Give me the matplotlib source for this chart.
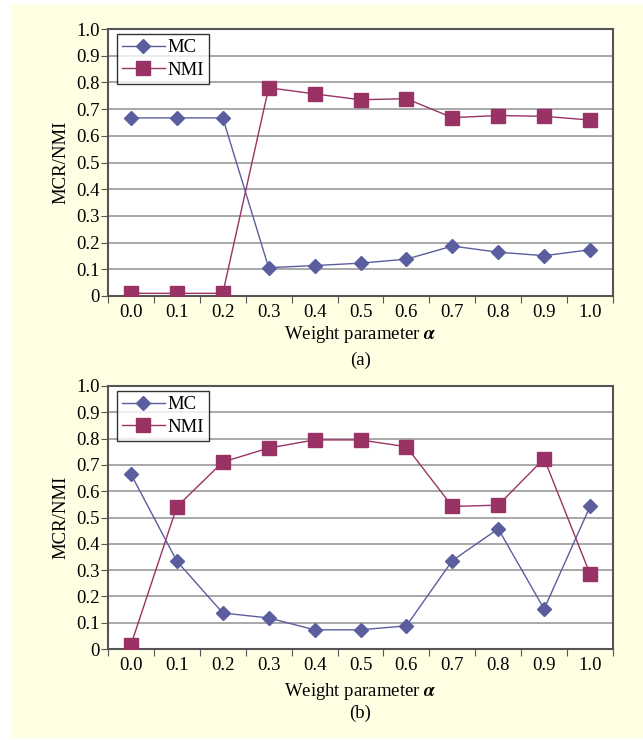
import matplotlib.pyplot as plt
import numpy as np
from matplotlib.patches import Rectangle

plt.rcParams['font.family'] = ['Liberation Serif', 'DejaVu Serif']
plt.rcParams['mathtext.fontset'] = 'stix'

alpha_labels = ['0.0', '0.1', '0.2', '0.3', '0.4', '0.5', '0.6', '0.7', '0.8', '0.9', '1.0']

# panel (a)
mc_a = [0.667, 0.667, 0.667, 0.106, 0.114, 0.123, 0.138, 0.187, 0.164, 0.151, 0.173]
nmi_a = [0.010, 0.010, 0.010, 0.780, 0.757, 0.735, 0.739, 0.668, 0.676, 0.673, 0.659]

# panel (b)
mc_b = [0.665, 0.334, 0.137, 0.118, 0.073, 0.073, 0.088, 0.336, 0.457, 0.152, 0.542]
nmi_b = [0.016, 0.541, 0.711, 0.764, 0.795, 0.795, 0.769, 0.542, 0.547, 0.724, 0.285]

MC_COLOR = '#5b5e9e'
NMI_COLOR = '#993366'
BG = '#ffffe4'
FS = 13.5

fig = plt.figure(figsize=(6.43, 7.40), dpi=100)
fig.patch.set_facecolor('white')
fig.patches.append(Rectangle((11 / 643, 2 / 740), 632 / 643, 734 / 740,
                             transform=fig.transFigure, facecolor=BG,
                             edgecolor='none', zorder=-10))


def draw_panel(rect, mc, nmi, tag, xlab_y, tag_y):
    ax = fig.add_axes(rect)
    x = np.arange(len(alpha_labels))
    ax.plot(x, mc, color=MC_COLOR, lw=1.0, marker='D', ms=7.5,
            mfc=MC_COLOR, mec=MC_COLOR, label='MC', zorder=3)
    ax.plot(x, nmi, color=NMI_COLOR, lw=1.0, marker='s', ms=9.5,
            mfc=NMI_COLOR, mec=NMI_COLOR, label='NMI', zorder=3)
    ax.set_xlim(-0.5, 10.5)
    ax.set_ylim(0, 1.0)
    ax.set_yticks(np.arange(0, 1.01, 0.1))
    ax.set_yticklabels(['0', '0.1', '0.2', '0.3', '0.4', '0.5', '0.6',
                        '0.7', '0.8', '0.9', '1.0'])
    ax.set_xticks(np.arange(-0.5, 10.6, 1.0))
    ax.set_xticklabels([])
    ax.set_xticks(x, minor=True)
    ax.set_xticklabels(alpha_labels, minor=True)
    ax.tick_params(axis='x', which='minor', length=0, pad=6, labelsize=FS)
    ax.tick_params(axis='x', which='major', length=5, direction='out',
                   color='#555555')
    ax.tick_params(axis='y', length=5, direction='out', color='#555555',
                   pad=1, labelsize=FS)
    ax.grid(axis='y', color='#999999', lw=1.2)
    ax.set_axisbelow(True)
    for s in ax.spines.values():
        s.set_color('#555555')
        s.set_linewidth(1.5)
    ax.set_ylabel('MCR/NMI', fontsize=FS, labelpad=5)
    fig.text(0.56, xlab_y, r'Weight parameter $\boldsymbol{\alpha}$',
             ha='center', va='center', fontsize=FS)
    fig.text(0.56, tag_y, tag, ha='center', va='center', fontsize=FS)
    leg = ax.legend(loc='upper left', bbox_to_anchor=(0.018, 0.98),
                    fontsize=FS, frameon=True, fancybox=False,
                    handlelength=2.3, borderpad=0.25, labelspacing=0.3,
                    handletextpad=0.15, borderaxespad=0)
    leg.get_frame().set_edgecolor('black')
    leg.get_frame().set_linewidth(1.0)
    return ax


draw_panel([108 / 643, 1 - 296 / 740, 505 / 643, 267 / 740],
           mc_a, nmi_a, '(a)', 1 - 334 / 740, 1 - 360 / 740)
draw_panel([108 / 643, 1 - 649 / 740, 505 / 643, 263 / 740],
           mc_b, nmi_b, '(b)', 1 - 691 / 740, 1 - 713 / 740)

fig.savefig('out.png', dpi=100, facecolor=fig.get_facecolor())
